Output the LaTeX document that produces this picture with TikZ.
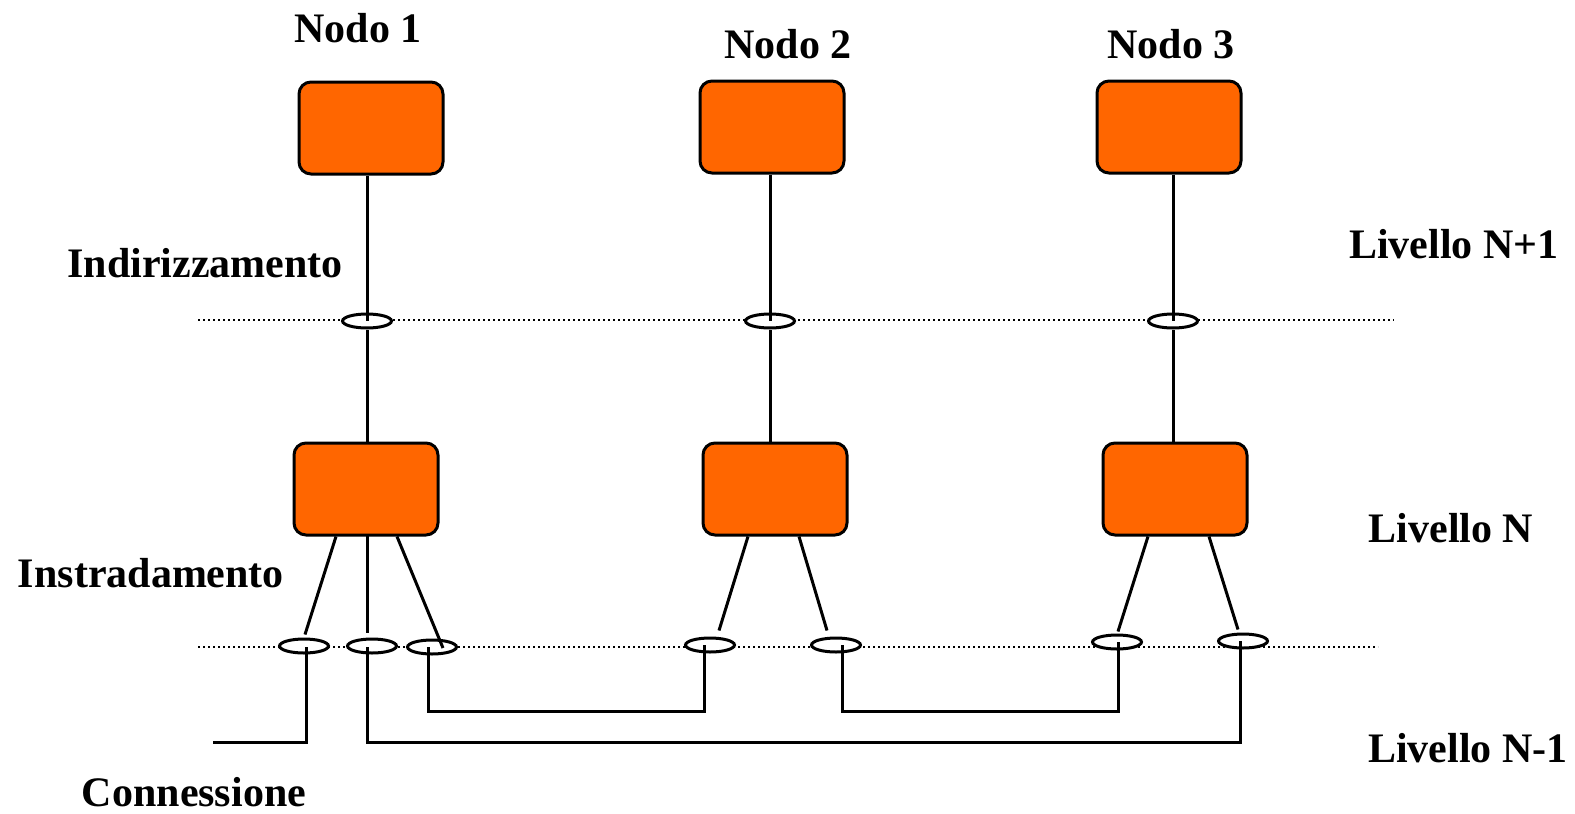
\documentclass[tikz,border=0pt]{standalone}
\usepackage{fontspec}
\setmainfont{Liberation Serif}
\usetikzlibrary{shapes.geometric,calc}
\definecolor{arancio}{HTML}{FF6600}
\tikzset{
  nodo/.style={draw, line width=1.5pt, fill=arancio, rounded corners=6pt,
    minimum width=72pt, minimum height=46pt, inner sep=0pt},
  sap/.style={draw, ellipse, line width=1.5pt, fill=white,
    minimum width=24.5pt, minimum height=7pt, inner sep=0pt},
  filo/.style={line width=1.5pt},
  punti/.style={line width=1.4pt, dash pattern=on 1.2pt off 1.3pt},
  etich/.style={font=\bfseries\fontsize{21}{25}\selectfont, inner sep=0pt}
}

\begin{document}
\begin{tikzpicture}[x=0.5pt,y=-0.5pt]
  \useasboundingbox (0,0) rectangle (1575,814);
  % livelli
  \coordinate (ua) at (198,320);  \coordinate (ub) at (1394,320);
  \coordinate (la) at (198,647);  \coordinate (lb) at (1378,647);
  \draw[punti] (ua) -- (ub);
  \draw[punti] (la) -- (lb);
  % nodi
  \node[nodo] (t1) at (371,128) {};
  \node[nodo] (t2) at (772,127) {};
  \node[nodo] (t3) at (1169,127) {};
  \node[nodo] (b1) at (366,489) {};
  \node[nodo] (b2) at (775,489) {};
  \node[nodo] (b3) at (1175,489) {};
  % punti di accesso
  \foreach \n/\x in {1/367,2/770,3/1173} { \node[sap] (u\n) at (\x,321) {}; }
  \foreach \n/\x/\y in {1/304/646,2/372/646,3/432/647,4/710/645,5/836/645,6/1117/642,7/1243/641} {
    \node[sap] (l\n) at (\x,\y) {};
  }
  % collegamenti
  \foreach \n in {1,2,3} {
    \draw[filo] (u\n |- t\n.south) -- (u\n.center);
    \draw[filo] (u\n.south) -- (u\n |- b\n.north);
  }
  \draw[filo] ($(b1.south)+(-30,0)$) -- ($(l1.north)+(1,-3)$);
  \draw[filo] (367,535) -- (367,633);
  \draw[filo] ($(b1.south)+(31,0)$) -- ($(l3.center)+(11,1)$);
  \draw[filo] ($(b2.south)+(-27,0)$) -- ($(l4.north)+(9,-6)$);
  \draw[filo] ($(b2.south)+(24,0)$) -- ($(l5.north)+(-9,-6)$);
  \draw[filo] ($(b3.south)+(-27,0)$) -- ($(l6.north)+(1,-2)$);
  \draw[filo] ($(b3.south)+(34,0)$) -- ($(l7.north)+(-5,-3)$);
  % connessioni
  \coordinate (w0) at (213,742);
  \draw[filo] (306,647) |- (w0);
  \draw[filo] (367,647) -- (367,742) -| (1240,641);
  \draw[filo] (428,647) -- (428,711) -| (704,645);
  \draw[filo] (842,645) -- (842,711) -| (1118,642);
  % etichette
  \node[etich] (n1) at (358,28) {Nodo 1};
  \node[etich] (n2) at (788,44) {Nodo 2};
  \node[etich] (n3) at (1171,44) {Nodo 3};
  \node[etich] (ind) at (205,263) {Indirizzamento};
  \node[etich] (ins) at (151,573) {Instradamento};
  \node[etich] (con) at (194,792) {Connessione};
  \node[etich] (lv1) at (1454,244) {Livello N+1};
  \node[etich] (lv2) at (1451,528) {Livello N};
  \node[etich] (lv3) at (1468,748) {Livello N-1};
\end{tikzpicture}
\end{document}
